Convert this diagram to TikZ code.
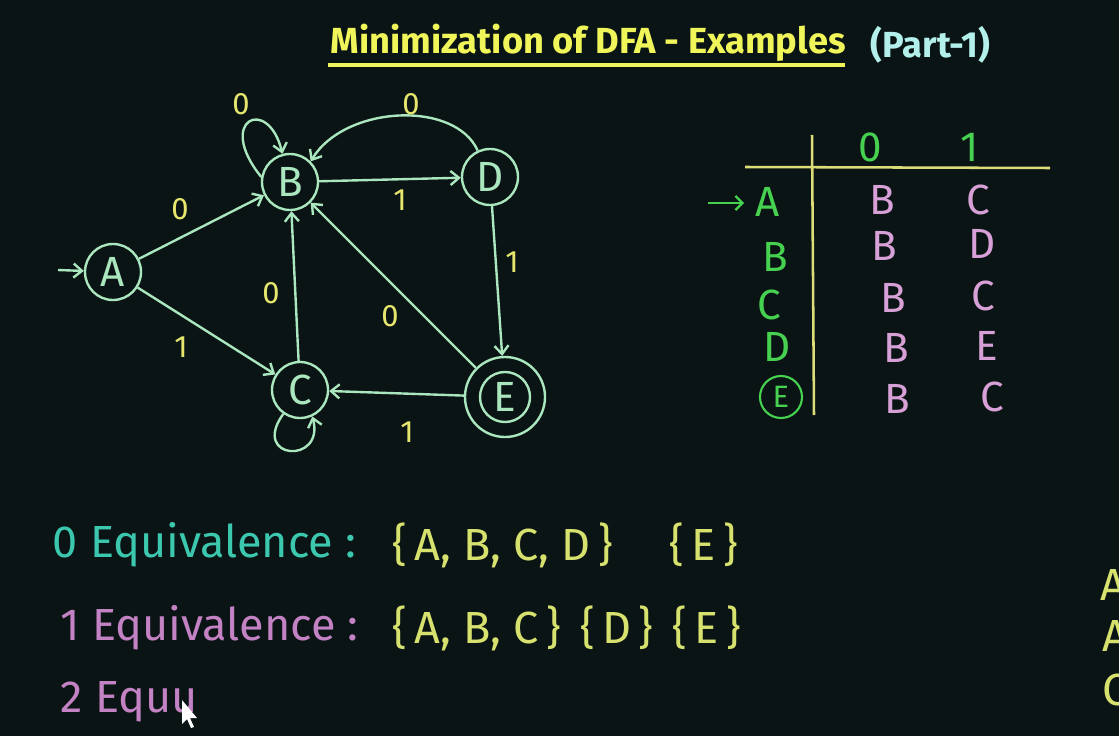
\documentclass[tikz,border=0pt]{standalone}
\usepackage{fontspec}
\setmainfont{Fira Sans}
\usetikzlibrary{arrows.meta}
\definecolor{bg}{RGB}{10,20,20}
\definecolor{mint}{RGB}{170,230,190}
\definecolor{lab}{RGB}{230,230,110}
\definecolor{ttl}{RGB}{240,245,90}
\definecolor{cyanp}{RGB}{180,240,235}
\definecolor{tline}{RGB}{220,220,120}
\definecolor{grn}{RGB}{70,210,80}
\definecolor{pnk}{RGB}{215,160,215}
\definecolor{teal}{RGB}{60,200,175}
\definecolor{mag}{RGB}{195,130,195}
\definecolor{setc}{RGB}{215,225,110}
\tikzset{
  st/.style={circle,draw=mint,line width=1.7pt,minimum size=1.4cm,inner sep=0pt,text=mint,font=\fontsize{30}{30}\selectfont},
  edge/.style={draw=mint,line width=1.7pt,-{Straight Barb[length=6pt,width=10pt]}},
  elab/.style={text=lab,font=\fontsize{22}{22}\selectfont},
  tcell/.style={font=\fontsize{30}{30}\selectfont},
  rowl/.style={tcell,text=grn},
  ent/.style={tcell,text=pnk},
  big/.style={font=\fontsize{32}{32}\selectfont,anchor=west}
}
\begin{document}
\begin{tikzpicture}[x=0.025cm,y=-0.025cm]
\fill[bg] (0,0) rectangle (1119,736);
\useasboundingbox (0,0) rectangle (1119,736);
\clip (0,0) rectangle (1119,736);
% title
\node[text=ttl,font=\bfseries\fontsize{25.8}{26}\selectfont,anchor=west] (title) at (326,43) {Minimization of DFA - Examples};
\node[text=cyanp,font=\bfseries\fontsize{25.8}{26}\selectfont,anchor=west] (part) at (866,45) {(Part-1)};
\draw[ttl,line width=2.2pt] (328,65) -- (845,65);
% states
\node[st] (A) at (113,272) {A};
\node[st] (B) at (290,182) {B};
\node[st] (D) at (490,177) {D};
\node[st] (C) at (300,390) {C};
\node[st,minimum size=2cm] (E) at (505,397) {};
\node[st,minimum size=1.25cm] (Ei) at (505,397) {E};
\coordinate (s) at (58,270);
\draw[edge] (s) -- (A);
\draw[edge] (A) -- (B);
\draw[edge] (A) -- (C);
\draw[edge] (B) -- (D);
\draw[edge] (C) -- (B);
\draw[edge] (E) -- (B);
\draw[edge] (D) -- (E);
\draw[edge] (E) -- (C);
\draw[edge] (B.170) .. controls (215,120) and (268,95) .. (B.105);
\draw[edge] (D.115) .. controls (455,100) and (345,105) .. (B.45);
\draw[edge] (C.235) .. controls (250,460) and (325,465) .. (C.295);
% edge labels
\node[elab] (l1) at (241,104) {0};
\node[elab] (l2) at (411,104) {0};
\node[elab] (l3) at (180,209) {0};
\node[elab] (l4) at (400,200) {1};
\node[elab] (l5) at (512,262) {1};
\node[elab] (l6) at (181,347) {1};
\node[elab] (l7) at (271,293) {0};
\node[elab] (l8) at (390,316) {0};
\node[elab] (l9) at (407,432) {1};
% table
\coordinate (v1) at (812,135);
\coordinate (v2) at (814,415);
\coordinate (h1) at (745,167);
\coordinate (h2) at (1050,168);
\draw[tline,line width=1.8pt] (v1) -- (v2);
\draw[tline,line width=1.8pt] (h1) -- (h2);
\node[rowl] (h0) at (870,147) {0};
\node[rowl] (hh1) at (970,147) {1};
\coordinate (ar1) at (708,203);
\coordinate (ar2) at (744,203);
\draw[grn,line width=1.6pt,-{Straight Barb[length=5pt,width=10pt]}] (ar1) -- (ar2);
\node[rowl] (rA) at (768,202) {A};
\node[rowl] (rB) at (775,257) {B};
\node[rowl] (rC) at (769,305) {C};
\node[rowl] (rD) at (777,347) {D};
\node[rowl,circle,draw=grn,line width=1.5pt,inner sep=0pt,minimum size=1.05cm,font=\fontsize{22}{22}\selectfont] (rE) at (781,397) {E};
\node[ent] (a0) at (882,200) {B};
\node[ent] (a1) at (978,200) {C};
\node[ent] (b0) at (884,246) {B};
\node[ent] (b1) at (982,244) {D};
\node[ent] (c0) at (893,298) {B};
\node[ent] (c1) at (983,296) {C};
\node[ent] (d0) at (896,348) {B};
\node[ent] (d1) at (987,346) {E};
\node[ent] (e0) at (897,399) {B};
\node[ent] (e1) at (992,397) {C};
% bottom
\node[big,text=teal] (eq0) at (48,545) {0 Equivalence :};
\node[big,text=setc] (s0) at (388,545) {\{\,A, B, C, D\,\}\quad\ \{\,E\,\}};
\node[big,text=mag] (eq1) at (56,628) {1 Equivalence :};
\node[big,text=setc] (s1) at (388,628) {\{\,A, B, C\,\}\, \{\,D\,\}\, \{\,E\,\}};
\node[big,text=mag] (eq2) at (56,702) {2 Equu};
\fill[white] (182,700) -- (182,724) -- (187,719) -- (191,728) -- (194,727) -- (190,718) -- (197,718) -- cycle;
% right edge partial
\node[big,text=setc] (r1) at (1096,585) {A};
\node[big,text=setc] (r2) at (1098,636) {A};
\node[big,text=setc] (r3) at (1098,690) {C};
\end{tikzpicture}
\end{document}
